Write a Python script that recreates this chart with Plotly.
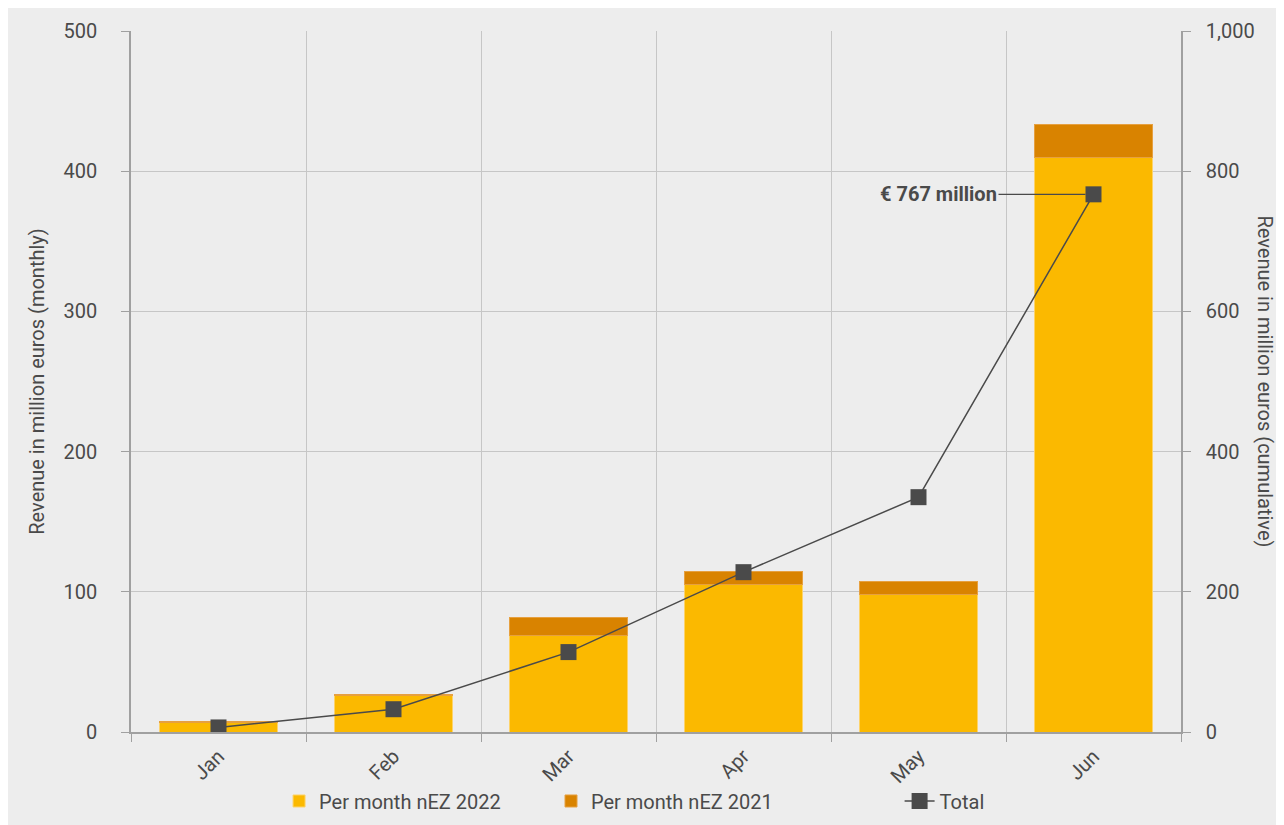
import plotly.graph_objects as go

months = ["Jan", "Feb", "Mar", "Apr", "May", "Jun"]
nez_2022 = [6.5, 26.0, 68.5, 104.9, 98.4, 410.0]
nez_2021 = [1.3, 1.1, 13.5, 9.9, 9.3, 23.3]
total_cum = [6.5, 32.5, 114.0, 228.0, 335.0, 767.0]

left_ticks = [0, 100, 200, 300, 400, 500]
right_ticks = [0, 200, 400, 600, 800, 1000]

YELLOW = "#FBB900"
ORANGE = "#D98300"
DARK = "#4a4a4a"
TXT = "#4a4a4a"
FONT = "Roboto"
BG = "#ededed"
AX = "#a0a0a0"
GRID = "#c6c6c6"

fig = go.Figure()
fig.add_trace(go.Bar(x=months, y=nez_2022, name="Per month nEZ 2022", legend="legend",
                     marker=dict(color=YELLOW, line=dict(color="#FDD36A", width=1))))
fig.add_trace(go.Bar(x=months, y=nez_2021, name="Per month nEZ 2021", legend="legend2",
                     marker=dict(color=ORANGE, line=dict(color="#E6A040", width=1))))
fig.add_trace(go.Scatter(x=months, y=total_cum, name="Total", yaxis="y2", legend="legend3",
                         mode="lines+markers",
                         line=dict(color=DARK, width=1.5),
                         marker=dict(symbol="square", size=16, color=DARK)))

fig.add_annotation(x="Jun", y=767, xref="x", yref="y2",
                   text="<b>€ 767 million</b>", showarrow=True, arrowhead=0,
                   arrowwidth=1.3, arrowcolor=DARK, ax=-95, ay=0,
                   xanchor="right", standoff=8,
                   font=dict(family=FONT, size=20, color=TXT))

fig.add_annotation(x=1.08, y=0.5, xref="paper", yref="paper",
                   text="Revenue in million euros (cumulative)", textangle=90,
                   showarrow=False, xanchor="center", yanchor="middle",
                   font=dict(family=FONT, size=20, color=TXT))

leg_common = dict(orientation="h", y=-0.0984, xanchor="left", yanchor="middle",
                  font=dict(family=FONT, size=20, color=TXT),
                  bgcolor="rgba(0,0,0,0)", itemwidth=30)

fig.update_layout(
    width=1284, height=825,
    margin=dict(l=123, r=111, t=23, b=101, autoexpand=False),
    paper_bgcolor=BG, plot_bgcolor=BG,
    barmode="stack", bargap=0.33,
    font=dict(family=FONT, size=20, color=TXT),
    showlegend=True,
    legend=dict(x=0.141, **leg_common),
    legend2=dict(x=0.400, **leg_common),
    legend3=dict(x=0.732, **leg_common),
    xaxis=dict(type="category", tickson="boundaries", tickangle=-45,
               showgrid=True, gridcolor=GRID, gridwidth=1.3,
               ticks="outside", ticklen=8, tickcolor=AX, ticklabelstandoff=3,
               showline=True, linecolor=AX, linewidth=1.5,
               range=[-0.5, 5.5]),
    yaxis=dict(range=[0, 500], tickvals=left_ticks, showgrid=True,
               gridcolor=GRID, gridwidth=1.3, zeroline=False,
               ticks="outside", ticklen=8, tickcolor=AX, ticklabelstandoff=20,
               showline=True, linecolor=AX, linewidth=1.5,
               title=dict(text="Revenue in million euros (monthly)", standoff=14,
                          font=dict(size=20))),
    yaxis2=dict(range=[0, 1000], tickvals=right_ticks, tickformat=",",
                overlaying="y", side="right", showgrid=False, zeroline=False,
                ticks="outside", ticklen=8, tickcolor=AX, ticklabelstandoff=11,
                showline=True, linecolor=AX, linewidth=1.5),
)

fig.write_html("out.html")
